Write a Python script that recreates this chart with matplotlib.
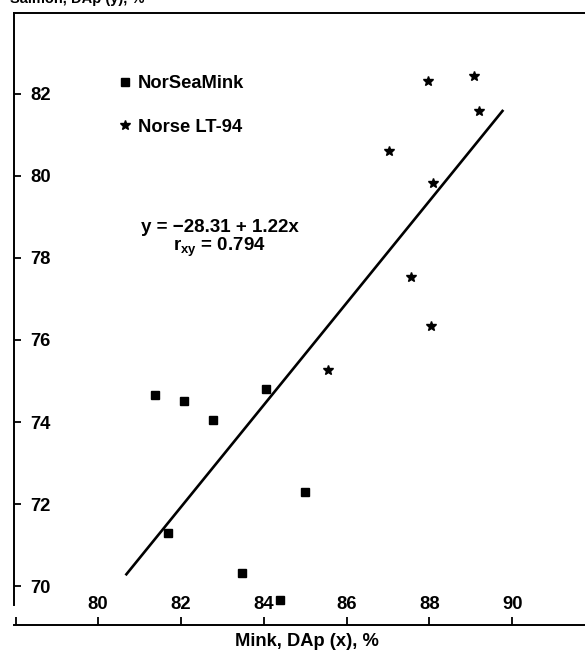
import matplotlib
matplotlib.use('Agg')
import matplotlib.pyplot as plt

plt.rcParams['font.family'] = ['Liberation Sans', 'DejaVu Sans']
plt.rcParams['mathtext.fontset'] = 'custom'
plt.rcParams['mathtext.bf'] = 'Liberation Sans:bold'
plt.rcParams['mathtext.rm'] = 'Liberation Sans'

# NorSeaMink (squares)
mink_x = [81.38, 82.07, 82.79, 84.05, 81.70, 85.00, 83.49, 84.40]
mink_y = [74.66, 74.52, 74.06, 74.81, 71.29, 72.30, 70.33, 69.68]

# Norse LT-94 (stars)
lt94_x = [85.55, 87.97, 89.07, 89.20, 87.03, 88.08, 87.56, 88.04]
lt94_y = [75.27, 82.30, 82.43, 81.57, 80.61, 79.83, 77.54, 76.34]

# regression line ends as drawn
fit_x = [80.67, 89.78]
fit_y = [70.27, 81.60]

xticks = [80, 82, 84, 86, 88, 90]
yticks = [70, 72, 74, 76, 78, 80, 82]

FS = 13.2
W, H = 585, 652
fig = plt.figure(figsize=(W / 100, H / 100), dpi=100)
ax = fig.add_axes([14 / W, 1 - 625 / H, 1 - 14 / W, (625 - 13) / H])

ax.plot(fit_x, fit_y, color='black', lw=1.9, solid_capstyle='butt')
ax.plot(mink_x, mink_y, 's', color='black', ms=5.2, ls='none', label='NorSeaMink')
ax.plot(lt94_x, lt94_y, '*', color='black', ms=7.5, ls='none', label='Norse LT-94')

ax.set_xlim(77.98, 91.75)
ax.set_ylim(69.06, 83.96)

for s in ['left', 'bottom', 'top']:
    ax.spines[s].set_linewidth(1.4)
ax.spines['right'].set_visible(False)
ax.spines['left'].set_bounds(69.55, 83.96)

ax.set_xticks(xticks)
ax.set_xticks([78.02], minor=True)
ax.set_yticks(yticks)
ax.tick_params(axis='y', direction='in', length=5, width=1.3, pad=-11.5,
               labelsize=FS)
ax.tick_params(axis='x', which='both', direction='in', length=6, width=1.3,
               pad=-8.6, labelsize=FS)
for lab in ax.get_yticklabels():
    lab.set_ha('left')
    lab.set_fontweight('bold')
for lab in ax.get_xticklabels():
    lab.set_va('bottom')
    lab.set_fontweight('bold')

ax.legend(loc='upper left', bbox_to_anchor=(118.6 / W, 1 - 75.5 / H),
          bbox_transform=fig.transFigure, frameon=False, borderpad=0,
          borderaxespad=0, handlelength=0.7, handletextpad=0.35,
          labelspacing=1.42, prop={'size': FS, 'weight': 'bold'})

fig.text(220 / W, 1 - 227 / H, 'y = \u221228.31 + 1.22x', ha='center', va='center',
         fontsize=13.5, fontweight='bold')
fig.text(219 / W, 1 - 247 / H, r'$\mathbf{r_{xy}}$ = 0.794', ha='center', va='center',
         fontsize=13.5, fontweight='bold')

fig.text(10 / W, 1 - 3.5 / H, 'Salmon, DAp (y), %', ha='left', va='baseline',
         fontsize=10.5, fontweight='bold')
fig.text(307 / W, 1 - 642 / H, 'Mink, DAp (x), %', ha='center', va='center',
         fontsize=FS, fontweight='bold')

fig.savefig('out.png', dpi=100)
